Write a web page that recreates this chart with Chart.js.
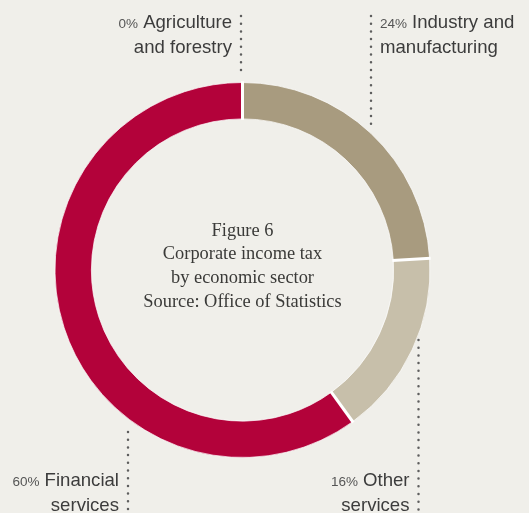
<!DOCTYPE html>
<html><head><meta charset="utf-8">
<script src="https://cdn.jsdelivr.net/npm/chart.js@4/dist/chart.umd.min.js"></script>
<style>
html,body{margin:0;padding:0;background:#f0efea;}
#wrap{width:529px;height:513px;position:relative;}
</style></head>
<body><div id="wrap"><canvas id="c" width="529" height="513"></canvas></div>
<script>
const categories = ["Agriculture and forestry", "Industry and manufacturing", "Other services", "Financial services"];
const values = [0, 24, 16, 60];
const pctLabels = ["0%", "24%", "16%", "60%"];
const nameLines = [["Agriculture", "and forestry"], ["Industry and", "manufacturing"], ["Other", "services"], ["Financial", "services"]];
const colors = ["#b3b3b3", "#a89b7f", "#c7bfaa", "#b3023a"];
const centerLines = ["Figure 6", "Corporate income tax", "by economic sector", "Source: Office of Statistics"];

const labelPlugin = {
  id: "labels",
  afterDatasetsDraw(chart) {
    const ctx = chart.ctx;
    const meta = chart.getDatasetMeta(0);
    // white separators between slices
    ctx.save();
    ctx.strokeStyle = "#ffffff";
    ctx.lineWidth = 3;
    meta.data.forEach(a => {
      const ang = a.startAngle;
      ctx.beginPath();
      ctx.moveTo(a.x + Math.cos(ang) * (a.innerRadius - 1), a.y + Math.sin(ang) * (a.innerRadius - 1));
      ctx.lineTo(a.x + Math.cos(ang) * (a.outerRadius + 1), a.y + Math.sin(ang) * (a.outerRadius + 1));
      ctx.stroke();
    });
    ctx.restore();
  },
  afterDraw(chart) {
    const ctx = chart.ctx;
    const meta = chart.getDatasetMeta(0);
    const arc0 = meta.data[0];
    const cx = arc0.x, cy = arc0.y, R = arc0.outerRadius;
    // center text
    ctx.save();
    ctx.fillStyle = "#3a3a38";
    ctx.font = "18.4px 'Liberation Serif', serif";
    ctx.textAlign = "center";
    ctx.textBaseline = "middle";
    const lh = 23.6;
    centerLines.forEach((t, i) => ctx.fillText(t, cx, cy - 39 + i * lh));
    ctx.restore();

    const lx = [cx - 1.5, cx + 128.5, cx + 176, cx - 114.5];
    const ly1 = [16, 16, cy + 70, cy + 162];
    const ly2 = [cy - R - 7, cy - 141, 513, 513];
    const side = ["left", "right", "left", "left"];
    for (let i = 0; i < categories.length; i++) {
      ctx.save();
      ctx.strokeStyle = "#5e5e5e";
      ctx.lineWidth = 2.5;
      ctx.lineCap = "round";
      ctx.setLineDash([0, 7.7]);
      ctx.beginPath();
      ctx.moveTo(lx[i], ly1[i]);
      ctx.lineTo(lx[i], ly2[i]);
      ctx.stroke();
      ctx.restore();

      ctx.save();
      ctx.fillStyle = "#3c3c3c";
      ctx.textBaseline = "middle";
      const y1 = i < 2 ? 23 : 481;
      const y2 = y1 + 24.5;
      const big = "18.6px 'Liberation Sans', Arial, sans-serif";
      const small = "13.5px 'Liberation Sans', Arial, sans-serif";
      if (side[i] === "left") {
        const xr = lx[i] - 9;
        ctx.font = big;
        const w1 = ctx.measureText(nameLines[i][0]).width;
        ctx.textAlign = "right";
        ctx.fillText(nameLines[i][0], xr, y1);
        ctx.fillText(nameLines[i][1], xr, y2);
        ctx.font = small;
        ctx.fillStyle = "#555";
        ctx.fillText(pctLabels[i], xr - w1 - 5, y1 + 1);
      } else {
        const xl = lx[i] + 9;
        ctx.font = small;
        ctx.textAlign = "left";
        ctx.fillStyle = "#555";
        const wp = ctx.measureText(pctLabels[i]).width;
        ctx.fillText(pctLabels[i], xl, y1 + 1);
        ctx.fillStyle = "#3c3c3c";
        ctx.font = big;
        ctx.fillText(nameLines[i][0], xl + wp + 5, y1);
        ctx.fillText(nameLines[i][1], xl, y2);
      }
      ctx.restore();
    }
  }
};

new Chart(document.getElementById("c"), {
  type: "doughnut",
  data: {
    labels: categories,
    datasets: [{
      data: values,
      backgroundColor: colors,
      borderColor: "rgba(255,255,255,0.7)",
      borderWidth: 1,
      hoverOffset: 0
    }]
  },
  options: {
    responsive: false,
    animation: false,
    cutout: "80.6%",
    layout: {padding: {left: 54.5, right: 98.5, top: 82, bottom: 55}},
    plugins: {legend: {display: false}, tooltip: {enabled: false}},
    events: []
  },
  plugins: [{
    id: "bg",
    beforeDraw(chart) {
      const c = chart.ctx;
      c.save();
      c.fillStyle = "#f0efea";
      c.fillRect(0, 0, chart.width, chart.height);
      c.restore();
    }
  }, labelPlugin]
});
</script>
</body></html>
